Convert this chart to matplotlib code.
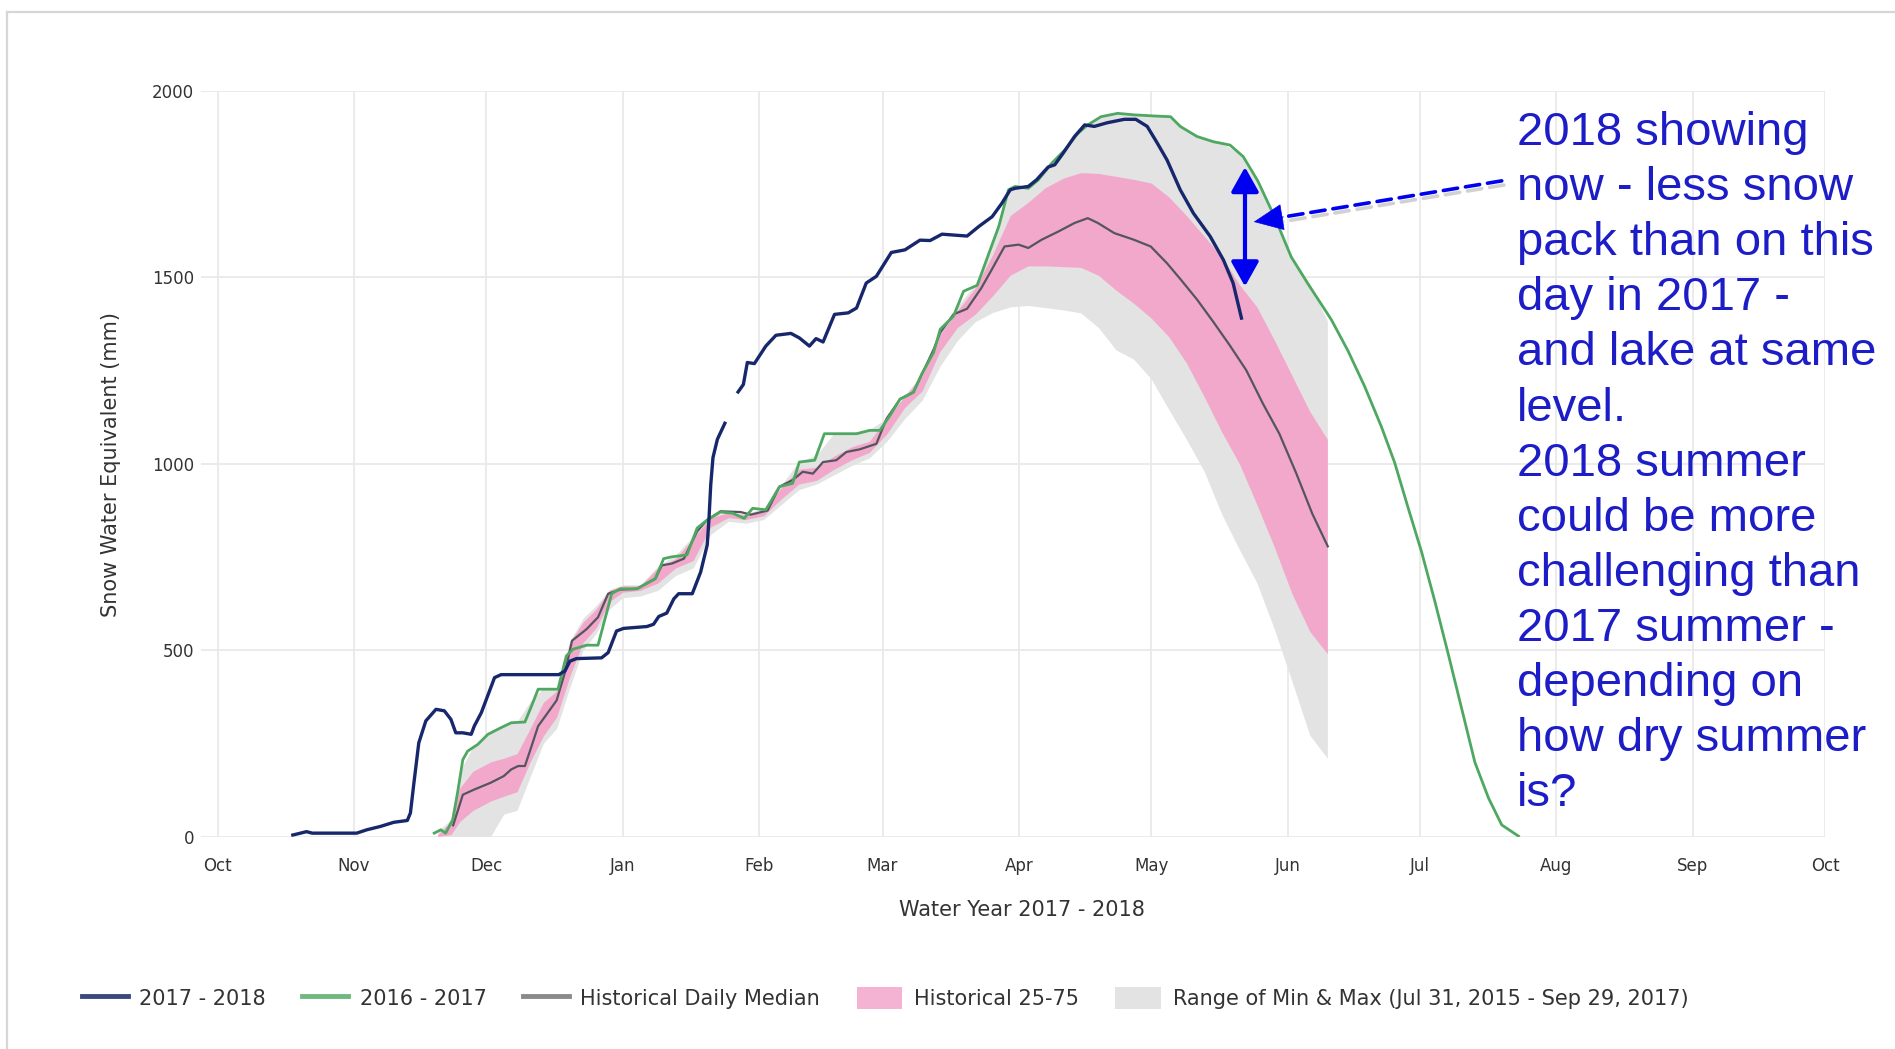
import numpy as np
import matplotlib
matplotlib.use("Agg")
import matplotlib.pyplot as plt
from matplotlib.lines import Line2D
from matplotlib.patches import Patch
import matplotlib.patheffects as pe

# ---------------- data (x = days since Oct 1, 2017) ----------------
month_days = [0, 31, 61, 92, 123, 151, 182, 212, 243, 273, 304, 335, 365]
month_labels = ["Oct", "Nov", "Dec", "Jan", "Feb", "Mar", "Apr", "May", "Jun",
                "Jul", "Aug", "Sep", "Oct"]
y_ticks = [0, 500, 1000, 1500, 2000]

navy_days = [17.1, 18.5, 20.2, 21.5, 23.2, 31.6, 33.9, 37, 40, 43.1, 43.8, 44.6, 45.7,
             47.3, 49.6, 51.5, 53, 54.1, 55.7, 57.6, 58.3, 59.9, 62.9, 64.4, 77.5, 78.9,
             80, 81.5, 87.2, 88.7, 90.6, 92.2, 97.5, 99, 100.2, 102, 103.6, 104.7, 107.8,
             109.7, 111.2, 111.6, 112, 112.5, 113.5, 115.2, 116.7, 118.2, 119.4, 120.3,
             121.9, 124.5, 126.8, 130.2, 132.1, 134.4, 135.9, 137.5, 140.1, 143.2, 145.1,
             147.3, 149.6, 153, 156.1, 159.5, 161.8, 164.5, 170.2, 172.9, 175.9, 178.1,
             180, 181.1, 184.1, 186, 188.6, 190.1, 192, 194.6, 196.9, 199.1, 202.1, 205.9,
             208.5, 211.1, 213.4, 215.6, 218.6, 221.6, 225.4, 228.4, 230.6, 232.5]
navy_swe = [4, 8, 13, 9, 9, 9, 18, 27, 38, 43, 63, 144, 251,
            310, 341, 337, 314, 278, 278, 274, 296, 332, 426, 434, 434, 444,
            470, 477, 479, 493, 551, 558, 563, 569, 590, 599, 637, 651, 651,
            709, 782, 854, 944, 1016, 1065, 1108, np.nan, 1192, 1212, 1271,
            1268, 1315, 1344, 1349, 1337, 1315, 1335, 1326, 1400, 1404, 1417,
            1484, 1502, 1566, 1573, 1599, 1598, 1615, 1610, 1636, 1662, 1698,
            1734, 1738, 1743, 1761, 1795, 1801, 1832, 1877, 1908, 1904, 1914, 1923,
            1923, 1904, 1859, 1814, 1734, 1671, 1609, 1546, 1484, 1390]

green_days = [49.2, 50.7, 51.8, 53.4, 54.5, 55.7, 56.8, 59.1, 61.4, 64.4, 66.7, 69.8,
              71.3, 72.8, 77.3, 79.2, 80.7, 83.8, 86.4, 89.5, 91.4, 95.2, 99.4, 101.3,
              103.2, 106.6, 108.9, 111.2, 114.2, 116.9, 119.6, 121.5, 124.5, 127.6, 130.6,
              132.1, 135.6, 137.8, 145.1, 148.1, 150.4, 152.7, 155, 158, 159.9, 162.6,
              164.1, 167.1, 169.4, 172.5, 175.5, 177.4, 179.6, 181.1, 184.1, 186.4, 189.4,
              192.4, 195.4, 197.6, 200.6, 204.4, 208.1, 212.6, 216.4, 218.6, 222.4, 226.1,
              229.9, 232.9, 236.2, 240, 243.8, 247.6, 252.9, 256.7, 260.5, 264.3, 267.3,
              270.3, 273.4, 276.4, 279.5, 282.5, 285.5, 288.6, 291.6, 295.4]
green_swe = [9, 18, 9, 45, 117, 206, 229, 247, 274, 292, 305, 307,
             350, 395, 395, 484, 502, 513, 513, 651, 664, 664, 691, 745,
             750, 755, 827, 849, 870, 867, 853, 880, 876, 938, 947,
             1004, 1009, 1080, 1080, 1089, 1089, 1129, 1173, 1191, 1240, 1298,
             1360, 1395, 1462, 1478, 1575, 1636, 1734, 1743, 1738, 1761, 1805,
             1841, 1886, 1908, 1930, 1939, 1935, 1932, 1930, 1904, 1877, 1863,
             1854, 1823, 1758, 1662, 1554, 1482, 1386, 1302, 1206, 1098, 1002,
             883, 763, 631, 487, 343, 199, 103, 31, 1]

median_days = [53.5, 54.5, 55.7, 58.3, 62, 65, 66.7, 68.3, 69.8, 71.3, 72.8, 75, 77,
               78.9, 80.5, 83.8, 86.4, 88.7, 91.4, 95.2, 99.4, 100.9, 103.2, 105.9, 108.9,
               111.2, 114.2, 118.8, 121.1, 124.9, 127.6, 130.6, 132.9, 135.2, 137.5, 140.5,
               142.8, 145.8, 149.6, 151.9, 155, 158, 162.6, 164.1, 167.1, 170.2, 173.4,
               175.8, 178.7, 181.9, 184.1, 187.1, 190.9, 194.6, 197.6, 199.9, 203.6, 208.1,
               211.9, 215.6, 218.6, 222.4, 226.1, 229.9, 233.6, 237.4, 241.1, 244.9, 248.6,
               252.1]
median_swe = [30, 67, 112, 126, 144, 162, 180, 189, 189, 242, 296, 332, 365,
              440, 525, 556, 588, 651, 662, 664, 691, 727, 732, 745, 818,
              849, 872, 870, 863, 874, 938, 956, 978, 973, 1004, 1009,
              1031, 1038, 1053, 1120, 1173, 1191, 1306, 1351, 1400, 1415, 1470,
              1520, 1582, 1587, 1578, 1600, 1622, 1645, 1658, 1645, 1618, 1600,
              1582, 1537, 1495, 1440, 1380, 1316, 1250, 1160, 1080, 975, 865,
              778]

band_days = [50, 53, 55, 58, 62, 65, 68, 71, 74, 77, 80, 83, 86, 89, 92, 96, 100, 104,
             108, 112, 116, 120, 124, 128, 132, 136, 140, 144, 148, 152, 156, 160, 164,
             168, 172, 176, 180, 184, 188, 192, 196, 200, 204, 208, 212, 216, 220, 224,
             228, 232, 236, 240, 244, 248, 252]
p75_swe = [5, 40, 130, 175, 200, 210, 222, 290, 360, 390, 520, 575, 610, 660, 672, 672,
           720, 745, 800, 855, 868, 862, 876, 935, 985, 990, 1020, 1045, 1060, 1120, 1180,
           1235, 1345, 1410, 1470, 1560, 1665, 1700, 1740, 1765, 1780, 1778, 1770, 1762,
           1752, 1715, 1665, 1610, 1555, 1480, 1420, 1330, 1235, 1140, 1065]
p25_swe = [0, 5, 40, 70, 95, 108, 120, 200, 270, 320, 430, 520, 560, 630, 655, 660,
           680, 720, 740, 830, 855, 850, 860, 905, 945, 955, 985, 1010, 1030, 1080, 1150,
           1195, 1300, 1365, 1400, 1450, 1505, 1530, 1530, 1528, 1526, 1505, 1465, 1430,
           1390, 1340, 1270, 1180, 1085, 1000, 890, 775, 650, 550, 490]
max_swe = [15, 45, 175, 240, 282, 298, 308, 362, 398, 398, 525, 585, 620, 662, 675, 675,
           725, 755, 805, 858, 872, 866, 880, 942, 1006, 1022, 1082, 1082, 1091, 1122,
           1182, 1242, 1357, 1422, 1480, 1592, 1737, 1742, 1787, 1840, 1894, 1930, 1941,
           1937, 1934, 1932, 1892, 1872, 1860, 1832, 1760, 1664, 1554, 1482, 1382]
min_swe = [0, 0, 0, 0, 0, 60, 70, 160, 250, 290, 400, 500, 545, 610, 640, 645, 660,
           700, 720, 810, 845, 840, 850, 890, 930, 945, 970, 995, 1015, 1060, 1120, 1170,
           1260, 1330, 1380, 1405, 1420, 1424, 1418, 1412, 1404, 1365, 1305, 1280, 1227,
           1145, 1065, 980, 865, 770, 680, 555, 415, 272, 210]

legend_labels = ["2017 - 2018", "2016 - 2017", "Historical Daily Median",
                 "Historical 25-75", "Range of Min & Max (Jul 31, 2015 - Sep 29, 2017)"]
note_text = ("2018 showing\nnow - less snow\npack than on this\nday in 2017 -\n"
             "and lake at same\nlevel.\n2018 summer\ncould be more\nchallenging than\n"
             "2017 summer -\ndepending on\nhow dry summer\nis?")
x_title = "Water Year 2017 - 2018"
y_title = "Snow Water Equivalent (mm)"

# annotation geometry (data coords)
gap_arrow_x, gap_arrow_top, gap_arrow_bottom = 233.3, 1795, 1475
dash_start = (291.6, 1758)
dash_tip = (235.3, 1648)

# ---------------- styles ----------------
C_NAVY = "#17276b"
C_GREEN = "#4ea861"
C_MED = "#55555f"
C_PINK = "#f2a8ca"
C_GRAY = "#e3e3e3"
C_BLUE = "#0000f0"
C_TEXT = "#333333"

W, H = 1895, 1049
fig = plt.figure(figsize=(W / 100, H / 100), dpi=100)
fig.patch.set_facecolor("white")

# screenshot frame
fig.add_artist(Line2D([7 / W, 1.0], [1 - 12 / H, 1 - 12 / H], transform=fig.transFigure,
                      color="#d6d6d6", lw=1.6))
fig.add_artist(Line2D([7 / W, 7 / W], [0, 1 - 12 / H], transform=fig.transFigure,
                      color="#d6d6d6", lw=1.6))

ax = fig.add_axes([201 / W, 1 - 836.5 / H, (1825 - 201) / W, (836.5 - 90.6) / H])
ax.set_xlim(-3.75, 365)
ax.set_ylim(0, 2000)
for s in ax.spines.values():
    s.set_visible(False)
ax.set_xticks(month_days)
ax.set_xticklabels(month_labels)
ax.set_yticks(y_ticks)
ax.set_yticklabels([str(v) for v in y_ticks])
ax.grid(True, color="#e8e8e8", lw=1.2, zorder=0)
ax.set_axisbelow(True)
ax.tick_params(axis="x", length=0, pad=15, labelsize=12, labelcolor=C_TEXT)
ax.tick_params(axis="y", length=0, pad=5, labelsize=12, labelcolor=C_TEXT)

ax.fill_between(band_days, min_swe, max_swe, color=C_GRAY, lw=0, zorder=1)
ax.fill_between(band_days, p25_swe, p75_swe, color=C_PINK, lw=0, zorder=2)
ax.plot(median_days, median_swe, color=C_MED, lw=1.6, zorder=3)
ax.plot(green_days, green_swe, color=C_GREEN, lw=2.0, zorder=4)
ax.plot(navy_days, navy_swe, color=C_NAVY, lw=2.4, zorder=5)

# vertical double arrow
ax.annotate("", xy=(gap_arrow_x, gap_arrow_top), xytext=(gap_arrow_x, gap_arrow_bottom),
            arrowprops=dict(arrowstyle="<|-|>,head_length=0.75,head_width=0.42",
                            mutation_scale=20, lw=3, color=C_BLUE,
                            shrinkA=0, shrinkB=0), zorder=7)
# dashed pointer with shadow
dash = ax.annotate("", xy=dash_tip, xytext=dash_start,
                   arrowprops=dict(arrowstyle="-", lw=2.6, color=C_BLUE,
                                   linestyle=(0, (4, 2.2)), shrinkA=0, shrinkB=8),
                   zorder=7)
dash.arrow_patch.set_path_effects([pe.SimpleLineShadow(offset=(1.5, -3), shadow_color="#9a9a9a",
                                                       alpha=0.45), pe.Normal()])
head_from = (dash_tip[0] + 0.12 * (dash_start[0] - dash_tip[0]),
             dash_tip[1] + 0.12 * (dash_start[1] - dash_tip[1]))
ax.annotate("", xy=dash_tip, xytext=head_from,
            arrowprops=dict(arrowstyle="-|>,head_length=1.0,head_width=0.45",
                            mutation_scale=20, lw=0.5, color=C_BLUE,
                            shrinkA=0, shrinkB=0), zorder=7)

# note text
fig.text(1517 / W, 1 - 111 / H, note_text, ha="left", va="top", fontsize=34,
         family=["Liberation Sans", "DejaVu Sans"], color="#1d1dc8", linespacing=1.327)

# axis titles
fig.text(1022 / W, 1 - 910 / H, x_title, ha="center", va="center", fontsize=15,
         color=C_TEXT)
fig.text(111 / W, 1 - 464 / H, y_title, ha="center", va="center", fontsize=15,
         rotation=90, color=C_TEXT)

# legend
handles = [Line2D([], [], color="#3a4a80", lw=3.5),
           Line2D([], [], color="#6fb880", lw=3.5),
           Line2D([], [], color="#8a8a8a", lw=3.5),
           Patch(facecolor="#f5b3d3", edgecolor="none"),
           Patch(facecolor="#e3e3e3", edgecolor="none")]
fig.legend(handles, legend_labels, loc="center left", bbox_to_anchor=(82 / W, 1 - 998 / H),
           ncol=5, frameon=False, fontsize=15, handlelength=2.2, handleheight=1.3,
           handletextpad=0.55, columnspacing=1.75, borderpad=0, borderaxespad=0,
           labelcolor=C_TEXT)

fig.savefig("out.png", dpi=100, facecolor="white")
